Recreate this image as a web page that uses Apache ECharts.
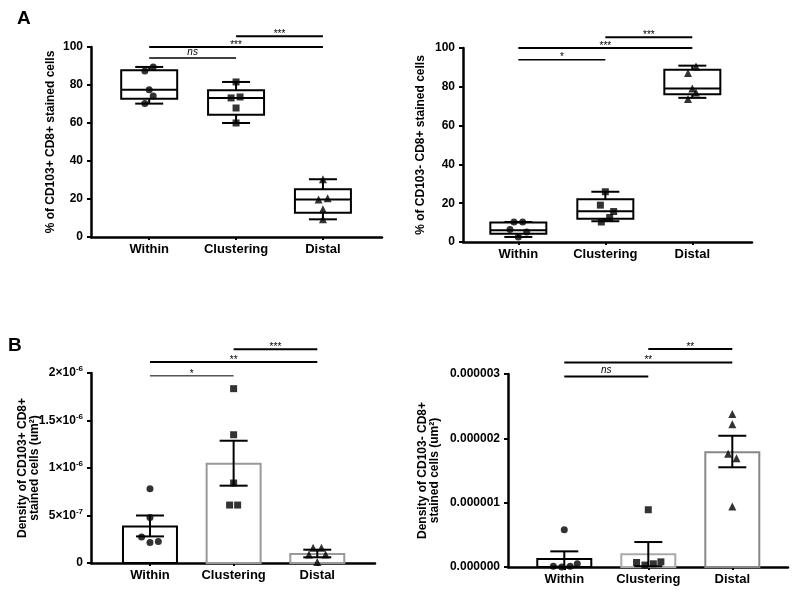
<!DOCTYPE html>
<html>
<head>
<meta charset="utf-8">
<script src="https://cdn.jsdelivr.net/npm/echarts@6/dist/echarts.min.js"></script>
<style>html,body{margin:0;padding:0;background:#fff;}#c{width:800px;height:599px;}</style>
</head>
<body>
<div id="c"></div>
<script>
// ---------------- DATA ----------------
const categories = ['Within', 'Clustering', 'Distal'];

// Panel A left: % of CD103+ CD8+ stained cells  (box: min, Q1, median, Q3, max)
const aLeftBoxes = [
  [70.2, 72.8, 77.5, 87.7, 89.5],
  [60.0, 64.4, 73.2, 77.2, 81.6],
  [9.3, 12.8, 19.8, 25.1, 30.4]
];
const aLeftPoints = [
  [87.4, 89.5, 77.5, 74.2, 70.2],
  [81.6, 73.2, 73.7, 67.9, 60.0],
  [30.4, 19.8, 20.4, 14.6, 9.3]
];
const aLeftJitter = [
  [-0.05, 0.046, 0, 0.046, -0.05],
  [0, -0.057, 0.046, 0, 0],
  [0, -0.05, 0.054, 0, 0]
];
const aLeftSig = [[0, 1, 94.2], [0, 2, 100], [1, 2, 105.6]];
const aLeftSigLabels = ['ns', '***', '***'];
const aTickLabels = ['0', '20', '40', '60', '80', '100'];

// Panel A right: % of CD103- CD8+ stained cells
const aRightBoxes = [
  [2.6, 4.3, 6.0, 10.0, 10.3],
  [10.7, 12.0, 15.9, 22.0, 25.9],
  [74.3, 76.2, 79.1, 88.8, 90.9]
];
const aRightPoints = [
  [10.3, 10.3, 6.4, 5.2, 2.6],
  [25.9, 19.0, 15.7, 12.6, 10.3],
  [90.5, 87.1, 79.1, 77.1, 73.7]
];
const aRightJitter = [
  [-0.05, 0.05, -0.096, 0.096, 0],
  [0, -0.057, 0.096, 0.05, -0.046],
  [0.042, -0.05, 0, 0.042, -0.05]
];
const aRightSig = [[0, 1, 94], [0, 2, 100], [1, 2, 105.5]];
const aRightSigLabels = ['*', '***', '***'];

// Panel B left: density of CD103+ CD8+ (um^2)
const bLeftMeans = [0.385e-6, 1.045e-6, 0.095e-6];
const bLeftErrLow = [0.28e-6, 0.814e-6, 0.06e-6];
const bLeftErrHigh = [0.50e-6, 1.287e-6, 0.14e-6];
const bLeftPoints = [
  [0.782e-6, 0.48e-6, 0.274e-6, 0.217e-6, 0.227e-6],
  [1.835e-6, 1.35e-6, 0.842e-6, 0.61e-6, 0.61e-6],
  [0.16e-6, 0.16e-6, 0.09e-6, 0.09e-6, 0.01e-6]
];
const bLeftJitter = [
  [0, 0, -0.1, 0, 0.1],
  [0, 0, 0, -0.048, 0.048],
  [-0.05, 0.05, -0.1, 0.1, 0]
];
const bLeftSig = [[0, 1, 1.97e-6], [0, 2, 2.116e-6], [1, 2, 2.25e-6]];
const bLeftSigLabels = ['*', '**', '***'];
const bLeftTickBase = ['0', '5×10', '1×10', '1.5×10', '2×10'];
const bLeftTickExp = ['', '-7', '-6', '-6', '-6'];

// Panel B right: density of CD103- CD8+ (um^2)
const bRightMeans = [0.124e-6, 0.2e-6, 1.785e-6];
const bRightErrLow = [0.005e-6, 0.012e-6, 1.55e-6];
const bRightErrHigh = [0.243e-6, 0.388e-6, 2.04e-6];
const bRightPoints = [
  [0.58e-6, 0.01e-6, 0.0, 0.01e-6, 0.05e-6],
  [0.89e-6, 0.07e-6, 0.03e-6, 0.05e-6, 0.08e-6],
  [2.38e-6, 2.22e-6, 1.76e-6, 1.69e-6, 0.94e-6]
];
const bRightJitter = [
  [0, -0.13, -0.03, 0.07, 0.155],
  [0, -0.14, -0.04, 0.06, 0.15],
  [0, 0, -0.05, 0.05, 0]
];
const bRightSig = [[0, 1, 2.96e-6], [0, 2, 3.18e-6], [1, 2, 3.39e-6]];
const bRightSigLabels = ['ns', '**', '**'];
const bRightTickLabels = ['0.000000', '0.000001', '0.000002', '0.000003'];

// ---------------- STYLE ----------------
const FONT = '"Liberation Sans", Arial, Helvetica, sans-serif';
const groupSymbols = ['circle', 'rect', 'triangle'];
const groupSymbolSizes = [7, 7, 8];
const bLeftBarColors = ['#000', '#999', '#999'];
const bRightBarColors = ['#000', '#aaa', '#888'];

const chart = echarts.init(document.getElementById('c'), null, {renderer: 'canvas'});

function line(x1, y1, x2, y2, w) {
  return {type: 'line', shape: {x1, y1, x2, y2}, style: {stroke: '#000', lineWidth: w || 2}};
}

function boxRender(params, api) {
  const x = api.value(0);
  const pMin = api.coord([x, api.value(1)]);
  const pQ1 = api.coord([x, api.value(2)]);
  const pMed = api.coord([x, api.value(3)]);
  const pQ3 = api.coord([x, api.value(4)]);
  const pMax = api.coord([x, api.value(5)]);
  const cx = pMin[0], hb = 28, hc = 14;
  return {type: 'group', children: [
    line(cx, pMax[1], cx, pQ3[1]),
    line(cx, pQ1[1], cx, pMin[1]),
    line(cx - hc, pMax[1], cx + hc, pMax[1]),
    line(cx - hc, pMin[1], cx + hc, pMin[1]),
    {type: 'rect', shape: {x: cx - hb, y: pQ3[1], width: 2 * hb, height: pQ1[1] - pQ3[1]},
      style: {stroke: '#000', lineWidth: 2, fill: '#fff'}},
    line(cx - hb, pMed[1], cx + hb, pMed[1])
  ]};
}

function barRender(colors) {
  return function (params, api) {
    const x = api.value(0);
    const p0 = api.coord([x, 0]);
    const p1 = api.coord([x, api.value(1)]);
    const hw = 27;
    return {type: 'rect', shape: {x: p0[0] - hw, y: p1[1], width: 2 * hw, height: p0[1] - p1[1]},
      style: {stroke: colors[params.dataIndex], lineWidth: 2, fill: '#fff'}};
  };
}

function errRender(params, api) {
  const x = api.value(0);
  const pl = api.coord([x, api.value(1)]);
  const ph = api.coord([x, api.value(2)]);
  const cx = pl[0], hc = 14;
  return {type: 'group', children: [
    line(cx, pl[1], cx, ph[1]),
    line(cx - hc, pl[1], cx + hc, pl[1]),
    line(cx - hc, ph[1], cx + hc, ph[1])
  ]};
}

function sigRender(labels, widths) {
  return function (params, api) {
    const y = api.value(2);
    const p1 = api.coord([api.value(0), y]);
    const p2 = api.coord([api.value(1), y]);
    const lab = labels[params.dataIndex];
    const isNs = lab === 'ns';
    return {type: 'group', children: [
      line(p1[0], p1[1], p2[0], p2[1], widths[params.dataIndex]),
      {type: 'text', x: (p1[0] + p2[0]) / 2, y: p1[1] + (isNs ? -1 : 3),
        style: {text: lab, fontSize: 10, fontStyle: isNs ? 'italic' : 'normal',
          fontFamily: FONT, align: 'center', verticalAlign: 'bottom', fill: '#000'}}
    ]};
  };
}

function xAxis(gridIndex, min, max) {
  return {
    type: 'value', gridIndex, min, max,
    axisLine: {show: true, onZero: false, lineStyle: {color: '#000', width: 2.5}},
    axisTick: {show: true, customValues: [0, 1, 2], length: 3, lineStyle: {color: '#000', width: 2}},
    axisLabel: {customValues: [0, 1, 2], formatter: v => categories[Math.round(v)],
      fontWeight: 'bold', fontSize: 13, color: '#000', margin: 6, fontFamily: FONT},
    splitLine: {show: false}
  };
}

function yAxis(gridIndex, max, interval, name, nameGap, formatter, rich) {
  return {
    type: 'value', gridIndex, min: 0, max, interval,
    axisLine: {show: true, onZero: false, lineStyle: {color: '#000', width: 2.5}},
    axisTick: {show: true, length: 4, lineStyle: {color: '#000', width: 2}},
    axisLabel: {formatter, fontWeight: 'bold', fontSize: 12, color: '#000', margin: 8, fontFamily: FONT, rich},
    splitLine: {show: false},
    name, nameLocation: 'middle', nameGap, nameMoveOverlap: false,
    nameTextStyle: {fontWeight: 'bold', fontSize: 12, color: '#000', fontFamily: FONT, lineHeight: 12}
  };
}

function scatterData(points, jitter) {
  const out = [];
  points.forEach((grp, g) => grp.forEach((v, i) => {
    out.push({value: [g + jitter[g][i], v], symbol: groupSymbols[g], symbolSize: groupSymbolSizes[g]});
  }));
  return out;
}

function boxData(boxes) {
  return boxes.map((b, g) => [g].concat(b));
}

const series = [];
function addBoxPanel(idx, boxes, points, jitter, sig, sigLabels, sigWidths) {
  series.push({type: 'custom', xAxisIndex: idx, yAxisIndex: idx, renderItem: boxRender,
    data: boxData(boxes), clip: false, z: 2, silent: true});
  series.push({type: 'scatter', xAxisIndex: idx, yAxisIndex: idx, data: scatterData(points, jitter),
    itemStyle: {color: '#000'}, z: 3, silent: true});
  series.push({type: 'custom', xAxisIndex: idx, yAxisIndex: idx, renderItem: sigRender(sigLabels, sigWidths),
    data: sig, clip: false, z: 4, silent: true});
}
function addBarPanel(idx, means, lo, hi, colors, points, jitter, sig, sigLabels, sigWidths) {
  series.push({type: 'custom', xAxisIndex: idx, yAxisIndex: idx, renderItem: barRender(colors),
    data: means.map((m, g) => [g, m]), clip: false, z: 2, silent: true});
  series.push({type: 'scatter', xAxisIndex: idx, yAxisIndex: idx, data: scatterData(points, jitter),
    itemStyle: {color: '#000'}, z: 3, silent: true});
  series.push({type: 'custom', xAxisIndex: idx, yAxisIndex: idx, renderItem: errRender,
    data: means.map((m, g) => [g, lo[g], hi[g]]), clip: false, z: 4, silent: true});
  series.push({type: 'custom', xAxisIndex: idx, yAxisIndex: idx, renderItem: sigRender(sigLabels, sigWidths),
    data: sig, clip: false, z: 4, silent: true});
}

addBoxPanel(0, aLeftBoxes, aLeftPoints, aLeftJitter, aLeftSig, aLeftSigLabels, [1.5, 2, 2]);
addBoxPanel(1, aRightBoxes, aRightPoints, aRightJitter, aRightSig, aRightSigLabels, [1.5, 2, 2]);
addBarPanel(2, bLeftMeans, bLeftErrLow, bLeftErrHigh, bLeftBarColors, bLeftPoints, bLeftJitter,
  bLeftSig, bLeftSigLabels, [1, 2, 2]);
addBarPanel(3, bRightMeans, bRightErrLow, bRightErrHigh, bRightBarColors, bRightPoints, bRightJitter,
  bRightSig, bRightSigLabels, [2, 2, 2]);

const option = {
  animation: false,
  backgroundColor: '#fff',
  grid: [
    {left: 91, top: 47, width: 291, height: 190},
    {left: 463, top: 48, width: 289, height: 194},
    {left: 91, top: 373, width: 284, height: 190},
    {left: 508, top: 374, width: 280, height: 193}
  ],
  xAxis: [
    xAxis(0, -0.67, 2.68),
    xAxis(1, -0.636, 2.686),
    xAxis(2, -0.705, 2.69),
    xAxis(3, -0.67, 2.663)
  ],
  yAxis: [
    yAxis(0, 100, 20, '% of CD103+ CD8+ stained cells', 34, (v) => aTickLabels[Math.round(v / 20)]),
    yAxis(1, 100, 20, '% of CD103- CD8+ stained cells', 36, (v) => aTickLabels[Math.round(v / 20)]),
    yAxis(2, 2e-6, 5e-7, 'Density of CD103+ CD8+\nstained cells (um²)', 50, (v) => {
      const i = Math.round(v / 5e-7);
      return bLeftTickExp[i] ? '{b|' + bLeftTickBase[i] + '}{s|' + bLeftTickExp[i] + '}' : '{b|' + bLeftTickBase[i] + '}';
    }, {
      b: {fontWeight: 'bold', fontSize: 12, color: '#000', fontFamily: FONT, lineHeight: 16},
      s: {fontWeight: 'bold', fontSize: 8, color: '#000', fontFamily: FONT, lineHeight: 8, verticalAlign: 'top'}
    }),
    yAxis(3, 3e-6, 1e-6, 'Density of CD103- CD8+\nstained cells (um²)', 67, (v) => bRightTickLabels[Math.round(v / 1e-6)])
  ],
  graphic: [
    {type: 'text', left: 17, top: 9, style: {text: 'A', fontSize: 19, fontWeight: 'bold', fill: '#000', fontFamily: FONT}},
    {type: 'text', left: 8, top: 336, style: {text: 'B', fontSize: 19, fontWeight: 'bold', fill: '#000', fontFamily: FONT}}
  ],
  series
};
chart.setOption(option);
</script>
</body>
</html>
